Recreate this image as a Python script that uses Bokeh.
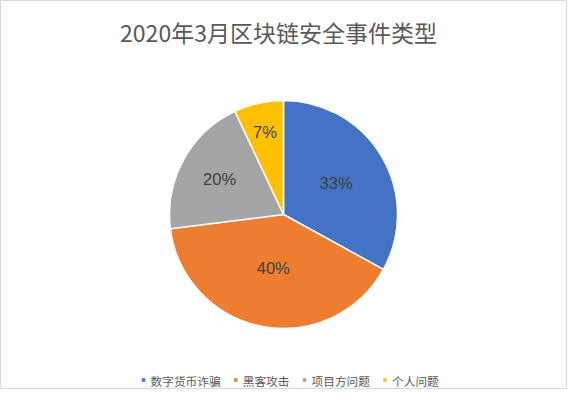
import numpy as np
from bokeh.plotting import figure
from bokeh.models import Range1d, ColumnDataSource
from bokeh.core.properties import value
from bokeh.embed import file_html
from bokeh.resources import INLINE

title_text = "2020年3月区块链安全事件类型"
categories = ["数字货币诈骗", "黑客攻击", "项目方问题", "个人问题"]
shares = [33, 40, 20, 7]
colors = ["#4472C4", "#ED7D31", "#A5A5A5", "#FFC000"]

W, H = 567, 389
p = figure(width=W, height=H, output_backend="svg", toolbar_location=None,
           x_range=Range1d(0, W), y_range=Range1d(0, H), min_border=0)
p.axis.visible = False
p.grid.visible = False
p.outline_line_color = "#D9D9D9"
p.outline_line_width = 1
p.background_fill_color = "white"
p.border_fill_color = "white"

cx, cy, r = 283, 175, 114
vals = np.array(shares, dtype=float)
frac = vals / vals.sum()
cum = np.concatenate([[0], np.cumsum(frac)])
# clockwise from 12 o'clock
start = np.pi / 2 - cum[1:] * 2 * np.pi
end = np.pi / 2 - cum[:-1] * 2 * np.pi
mid = (start + end) / 2
dist = r * (0.80 - 0.008 * vals)
lx = cx + dist * np.cos(mid)
ly = cy + dist * np.sin(mid)

src = ColumnDataSource(dict(start=start, end=end, color=colors,
                            lx=lx, ly=ly,
                            lab=[f"{int(v)}%" for v in shares]))
p.wedge(x=cx, y=cy, radius=r, start_angle="start", end_angle="end",
        fill_color="color", line_color="white", line_width=1.5, source=src)
p.text(x="lx", y="ly", text="lab", source=src, text_align="center",
       text_baseline="middle", text_font=value("Liberation Sans"),
       text_font_size="16.5px", text_color="#404040")

# title
p.text(x=[278], y=[H - 31], text=[title_text], text_align="center",
       text_baseline="middle", text_font=value("Noto Sans CJK SC"),
       text_font_size="23px", text_color="#595959")

# legend
fs = 11.7
widths = [len(c) * fs for c in categories]
x = 141
xs_sq, xs_tx = [], []
for w in widths:
    xs_sq.append(x + 2)
    xs_tx.append(x + 9)
    x += 7 + w + 15
leg_y = 9.5
p.rect(x=xs_sq, y=[leg_y] * 4, width=3.5, height=3.5, fill_color=colors,
       line_color=None)
p.text(x=xs_tx, y=[leg_y] * 4, text=categories, text_align="left",
       text_baseline="middle", text_font=value("Noto Sans CJK SC"),
       text_font_size=f"{fs}px", text_color="#595959")

open("out.html", "w").write(file_html(p, INLINE))
